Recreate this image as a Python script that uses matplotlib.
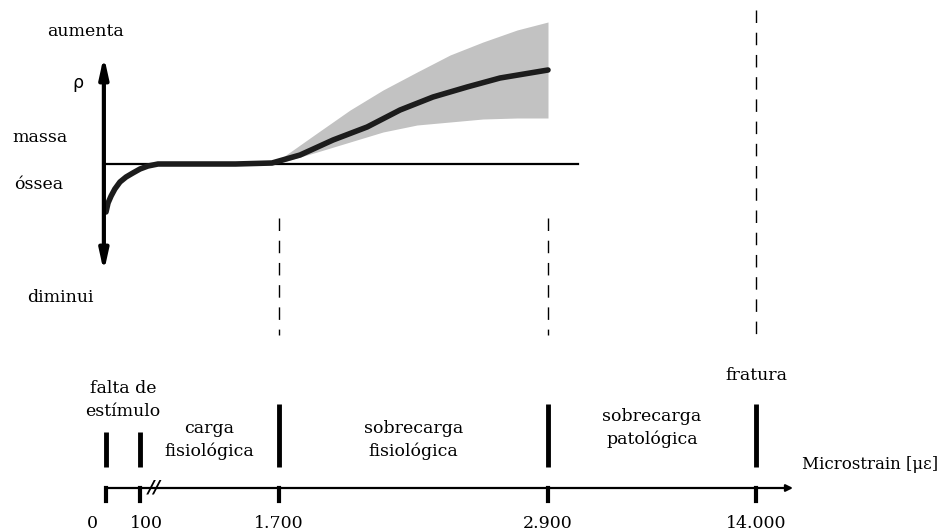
import numpy as np
import matplotlib
matplotlib.use("Agg")
import matplotlib.pyplot as plt

plt.rcParams['font.family'] = ['DejaVu Serif']
FS = 12.5

# strain limits between the load zones (microstrain)
limits = [0, 100, 1700, 2900, 14000]
tick_labels = ["0", "100", "1.700", "2.900", "14.000"]
zone_labels = ["falta de\nestímulo", "carga\nfisiológica", "sobrecarga\nfisiológica",
               "sobrecarga\npatológica"]

# bone mass response (0 = no change)
strain_curve = [0, 6, 15, 26, 41, 59, 79, 100, 192, 307, 800, 1200, 1619,
                1794, 1941, 2093, 2240, 2387, 2539, 2686, 2900]
mass_curve = [-0.48, -0.39, -0.32, -0.25, -0.18, -0.13, -0.09, -0.05, -0.02, 0.0, 0.0, 0.0, 0.01,
              0.09, 0.24, 0.37, 0.54, 0.67, 0.77, 0.86, 0.94]
strain_band = [1619, 1718, 1870, 2017, 2164, 2316, 2463, 2610, 2762, 2900]
mass_upper = [0.01, 0.07, 0.31, 0.54, 0.74, 0.92, 1.09, 1.22, 1.34, 1.42]
mass_lower = [0.0, 0.02, 0.12, 0.22, 0.32, 0.39, 0.42, 0.45, 0.46, 0.46]

# piecewise scale so every zone gets its own width on the axis
knots = [-3000, 0, 100, 1700, 2900, 14000, 20000]
pos = [0, 106, 140, 279, 548, 756, 944]
fwd = lambda s: np.interp(s, knots, pos)
inv = lambda p: np.interp(p, pos, knots)

fig = plt.figure(figsize=(9.44, 5.31), dpi=100)
ax = fig.add_axes([0, 0, 1, 1])
ax.set_xscale('function', functions=(fwd, inv))
ax.set_xlim(-3000, 20000)
ax.set_ylim(-3.67, 1.64)
ax.axis('off')

# response curve with its spread
ax.fill_between(strain_band, mass_lower, mass_upper, color='#c2c2c2', lw=0)
ax.plot([0, 4500], [0, 0], color='black', lw=1.6)
ax.plot(strain_curve, mass_curve, color='#1c1c1c', lw=4,
        solid_capstyle='round', solid_joinstyle='round')

# vertical bone mass axis
ax.annotate("", xy=(-60, 1.08), xytext=(-60, -1.08),
            arrowprops=dict(arrowstyle='<|-|>,head_length=1.0,head_width=0.22', lw=3,
                            color='black', mutation_scale=12, shrinkA=0, shrinkB=0))
ytr = ax.get_yaxis_transform()
ax.text(85 / 944, 1.32, "aumenta", transform=ytr, ha='center', va='center', fontsize=FS)
ax.text(78 / 944, 0.81, "ρ", transform=ytr, ha='center', va='center', fontsize=FS,
        family=['DejaVu Sans'])
ax.text(12 / 944, 0.26, "massa", transform=ytr, ha='left', va='center', fontsize=FS)
ax.text(14 / 944, -0.21, "óssea", transform=ytr, ha='left', va='center', fontsize=FS)
ax.text(60 / 944, -1.33, "diminui", transform=ytr, ha='center', va='center', fontsize=FS)

# dashed guides at the zone limits
for s, top in zip(limits[2:], [-0.54, -0.54, 1.54]):
    ax.plot([s, s], [top, -1.71], color='black', lw=1, dashes=(9, 7))

# strain axis
ax.annotate("", xy=(15181, -3.24), xytext=(0, -3.24),
            arrowprops=dict(arrowstyle='-|>', lw=1.6, color='black',
                            mutation_scale=10, shrinkA=0, shrinkB=0))
ax.text(260, -3.235, "//", ha='center', va='center', fontsize=13, fontweight='bold',
        style='italic', family=['DejaVu Sans'])
ax.text(802 / 944, -3.01, "Microstrain [με]", transform=ytr, ha='left', va='center',
        fontsize=12)
offsets = [-10, 4.5, 0, 0, 0]
for s, lab, off in zip(limits, tick_labels, offsets):
    ax.plot([s, s], [-3.24, -3.37], color='black', lw=3)
    ax.annotate(lab, xy=(s, -3.6), xytext=(off, 0), textcoords='offset points',
                ha='center', va='center', fontsize=FS)

# zone limit bars
for i, s in enumerate(limits):
    top = -2.68 if i < 2 else -2.40
    ax.plot([s, s], [top, -3.03], color='black', lw=3.5, solid_capstyle='butt')

# zone names centred between limits
zone_y = [-2.36, -2.76, -2.76, -2.64]
for i, (lab, y) in enumerate(zip(zone_labels, zone_y)):
    mid = inv((fwd(limits[i]) + fwd(limits[i + 1])) / 2)
    ax.text(mid, y, lab, ha='center', va='center', fontsize=FS, linespacing=1.4)
ax.text(limits[-1], -2.12, "fratura", ha='center', va='center', fontsize=FS)

fig.savefig("out.png", dpi=100)
